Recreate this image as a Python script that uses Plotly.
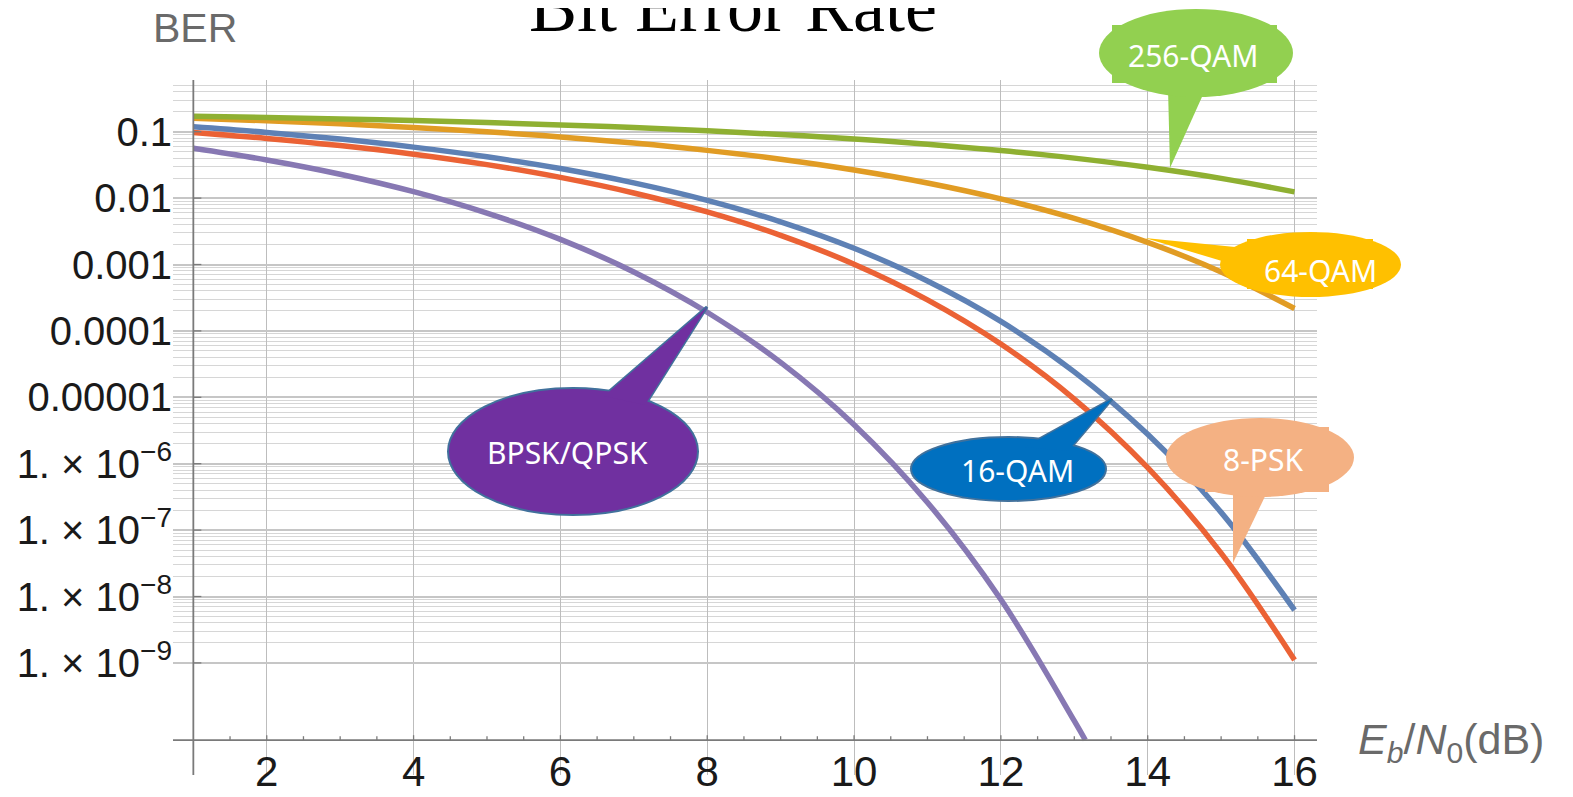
import math
import plotly.graph_objects as go

# ---------------- data ----------------
ebn0 = [1, 2, 3, 4, 5, 6, 7, 8, 9, 10, 11, 12, 13, 14, 15, 16]
ebn0_bpsk = [1, 2, 3, 4, 5, 6, 7, 8, 9, 10, 11, 12, 13, 13.15]

ber_bpsk = [0.0563, 0.0375, 0.0229, 0.0125, 0.00595, 0.00239, 7.73e-4, 1.91e-4,
            3.36e-5, 3.87e-6, 2.61e-7, 9.0e-9, 1.34e-10, 6.9e-11]
ber_16qam = [0.1184, 0.0976, 0.0774, 0.0586, 0.0419, 0.0279, 0.01697, 0.00925,
             0.00439, 0.001754, 5.65e-4, 1.39e-4, 2.42e-5, 2.77e-6, 1.85e-7, 6.25e-9]
ber_8psk = [0.0976, 0.0793, 0.0618, 0.0458, 0.0319, 0.0205, 0.01195, 0.00618,
            0.00275, 0.001011, 2.94e-4, 6.34e-5, 9.4e-6, 8.7e-7, 4.51e-8, 1.11e-9]
ber_64qam = [0.160, 0.1461, 0.1313, 0.1157, 0.0997, 0.0835, 0.0675, 0.0523,
             0.0385, 0.0265, 0.01688, 0.00972, 0.00495, 0.002153, 7.73e-4, 2.17e-4]
ber_256qam = [0.1712, 0.1639, 0.1558, 0.1469, 0.1372, 0.1267, 0.1154, 0.1034,
              0.0908, 0.0778, 0.0648, 0.0520, 0.0400, 0.0291, 0.0198, 0.0124]

x_tick_vals = [2, 4, 6, 8, 10, 12, 14, 16]
x_tick_text = ["2", "4", "6", "8", "10", "12", "14", "16"]
y_tick_vals = [1e-1, 1e-2, 1e-3, 1e-4, 1e-5, 1e-6, 1e-7, 1e-8, 1e-9]
y_tick_text = ["0.1", "0.01", "0.001", "0.0001", "0.00001",
               "1. × 10<sup>−6</sup>", "1. × 10<sup>−7</sup>",
               "1. × 10<sup>−8</sup>", "1. × 10<sup>−9</sup>"]

title_text = "Bit Error Rate"
y_label = "BER"
x_label = "<i>E</i><sub><i>b</i></sub>/<i>N</i><sub>0</sub>(dB)"

# ---------------- layout geometry ----------------
# page body has an 8px default margin: the figure is placed 8px right/down
PAGE_OFF = 8
W, H = 1573 - PAGE_OFF, 797 - 2 * PAGE_OFF
L, R, T, B = 173, 1317, 80, 775          # plot area in page pixels
XR = [0.723, 16.306]
YR = [-10.688, -0.2214]
X_AXIS_LOG = -10.164
AXIS_COL = "#7a7a7a"


def px(x):
    return (x - L) / (R - L)


def py(y):
    return (B - y) / (B - T)


def ylog_paper(v):
    return (v - YR[0]) / (YR[1] - YR[0])


fig = go.Figure()

series = [
    ("BPSK/QPSK", ebn0_bpsk, ber_bpsk, "#8778B3"),
    ("64-QAM", ebn0, ber_64qam, "#E19C24"),
    ("256-QAM", ebn0, ber_256qam, "#8FB032"),
    ("16-QAM", ebn0, ber_16qam, "#5E81B5"),
    ("8-PSK", ebn0, ber_8psk, "#EB6235"),
]
for name, xs, ys, col in series:
    fig.add_trace(go.Scatter(x=xs, y=ys, mode="lines", name=name,
                             line=dict(color=col, width=5.5, shape="spline"),
                             showlegend=False, hoverinfo="skip"))

minor_vals = []
for e in range(-9, 0):
    for k in range(2, 10):
        v = k * 10.0 ** e
        if math.log10(v) < YR[1]:
            minor_vals.append(v)

shapes = []
# axis lines
shapes.append(dict(type="line", xref="x", yref="paper", x0=1, x1=1, y0=0, y1=1,
                   line=dict(color=AXIS_COL, width=1.8), layer="above"))
ax_y = ylog_paper(X_AXIS_LOG)
shapes.append(dict(type="line", xref="paper", yref="paper", x0=0, x1=1, y0=ax_y, y1=ax_y,
                   line=dict(color=AXIS_COL, width=1.8), layer="above"))
# y ticks on the axis line
for v in y_tick_vals:
    yp = ylog_paper(math.log10(v))
    shapes.append(dict(type="line", xref="x", yref="paper", x0=1, x1=1 + 8 / 73.41,
                       y0=yp, y1=yp, line=dict(color=AXIS_COL, width=1.3), layer="above"))
# x ticks on the axis line
t = 1.5
while t <= 16.01:
    ln = 5 if abs(t - round(t)) < 1e-9 and int(round(t)) % 2 == 0 else 4
    shapes.append(dict(type="line", xref="x", yref="paper", x0=t, x1=t,
                       y0=ax_y, y1=ax_y + ln / (B - T),
                       line=dict(color=AXIS_COL, width=1.3), layer="above"))
    t += 0.5


def ellipse(x0, y0, x1, y1, fill, outline=None):
    return dict(type="circle", xref="paper", yref="paper",
                x0=px(x0), x1=px(x1), y0=py(y1), y1=py(y0),
                fillcolor=fill, layer="above",
                line=dict(color=outline if outline else fill, width=2 if outline else 0))


def rect(x0, y0, x1, y1, fill):
    return dict(type="rect", xref="paper", yref="paper",
                x0=px(x0), x1=px(x1), y0=py(y1), y1=py(y0),
                fillcolor=fill, layer="above", line=dict(width=0))


def tri(pts, fill, outline=None, w=3):
    p = "M " + " L ".join(f"{px(a):.5f},{py(b):.5f}" for a, b in pts) + " Z"
    return dict(type="path", xref="paper", yref="paper", path=p, fillcolor=fill,
                layer="above",
                line=dict(color=outline if outline else fill, width=w if outline else 0))


# 256-QAM bubble
c = "#92D050"
shapes += [tri([(1168, 88), (1206, 88), (1170, 168)], c),
           ellipse(1099, 9, 1293, 97, c), rect(1112, 25, 1277, 83, c)]
# 64-QAM bubble
c = "#FFC000"
shapes += [tri([(1145, 238), (1245, 248), (1232, 264)], c),
           ellipse(1220, 232, 1401, 297, c), rect(1247, 239, 1373, 289, c)]
# 8-PSK bubble
c = "#F4B183"
shapes += [tri([(1233, 486), (1270, 486), (1233, 563)], c),
           ellipse(1166, 418, 1354, 497, c), rect(1205, 427, 1329, 492, c)]
# 16-QAM bubble
c, o = "#0070C0", "#41719C"
tail = [(1025, 447), (1068, 451), (1112, 399)]
shapes += [tri(tail, c, o), ellipse(911, 437, 1106, 501, c, o), tri(tail, c)]
# BPSK/QPSK bubble
c = "#7030A0"
tail = [(604, 396), (645, 405), (707, 307)]
shapes += [tri(tail, c, o), ellipse(448, 388, 698, 515, c, o), tri(tail, c)]

annotations = []
bubble_font = dict(family="Noto Sans", size=30, color="white")
for txt, cx, cy in [("256-QAM", 1193, 56), ("64-QAM", 1320, 270), ("8-PSK", 1263, 460),
                    ("16-QAM", 1017, 470), ("BPSK/QPSK", 567, 453)]:
    annotations.append(dict(text=txt, x=px(cx), y=py(cy), xref="paper", yref="paper",
                            xanchor="center", yanchor="middle", showarrow=False,
                            font=bubble_font))

annotations.append(dict(text=title_text, x=px(733), y=py(7), xref="paper", yref="paper",
                        xanchor="center", yanchor="middle", showarrow=False,
                        font=dict(family="Liberation Serif", size=72, color="black")))
annotations.append(dict(text=y_label, x=px(195), y=py(28), xref="paper", yref="paper",
                        xanchor="center", yanchor="middle", showarrow=False,
                        font=dict(family="Liberation Sans", size=41, color="#6a6a6a")))
annotations.append(dict(text=x_label, x=px(1451), y=py(742), xref="paper", yref="paper",
                        xanchor="center", yanchor="middle", showarrow=False,
                        font=dict(family="Liberation Sans", size=43, color="#6a6a6a")))

y_tick_font = dict(family="Liberation Sans", size=40, color="#1a1a1a")
x_tick_font = dict(family="Liberation Sans", size=42, color="#1a1a1a")

fig.update_layout(
    width=W, height=H,
    margin=dict(l=L - PAGE_OFF, r=W - (R - PAGE_OFF), t=T - PAGE_OFF,
                b=H - (B - PAGE_OFF), pad=0, autoexpand=False),
    paper_bgcolor="white", plot_bgcolor="white",
    shapes=shapes, annotations=annotations,
    xaxis=dict(range=XR, tickmode="array", tickvals=x_tick_vals, ticktext=x_tick_text,
               showgrid=True, gridcolor="#bdbdbd", gridwidth=1.3, zeroline=False,
               showline=False, ticks="", tickfont=x_tick_font, ticklabelstandoff=-32,
               automargin=False, fixedrange=True),
    yaxis=dict(type="log", range=YR, tickmode="array", tickvals=y_tick_vals,
               ticktext=y_tick_text, showgrid=True, gridcolor="#c6c6c6", gridwidth=2,
               zeroline=False, showline=False, ticks="", tickfont=y_tick_font,
               minor=dict(tickmode="array", tickvals=minor_vals, showgrid=True,
                          gridcolor="#d6d6d6", gridwidth=1.4, ticks=""),
               automargin=False, fixedrange=True),
)

fig.write_html("out.html")
